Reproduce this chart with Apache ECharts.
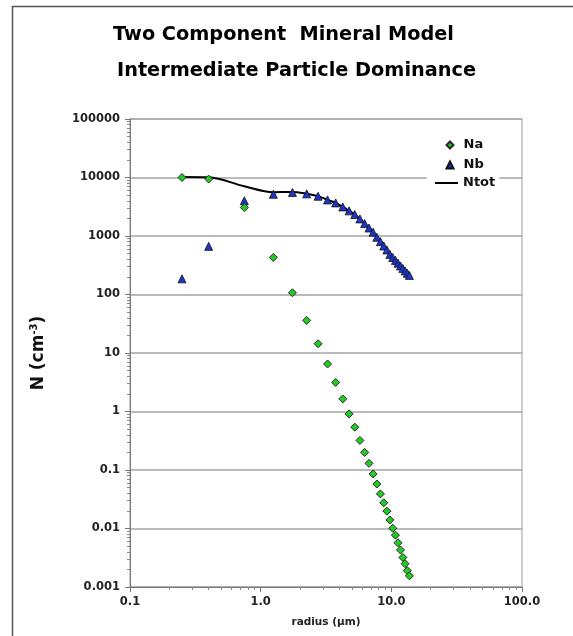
<!DOCTYPE html>
<html>
<head>
<meta charset="utf-8">
<script src="https://cdn.jsdelivr.net/npm/echarts@6/dist/echarts.min.js"></script>
<style>
html,body{margin:0;padding:0;background:#fff;}
#chart{width:573px;height:636px;}
</style>
</head>
<body>
<div id="chart"></div>
<script>
// ---- data ----
const titleLines = ['Two Component  Mineral Model', 'Intermediate Particle Dominance'];
const seriesNames = ['Na', 'Nb', 'Ntot'];
const radius = [0.25, 0.4, 0.75, 1.25, 1.75, 2.25, 2.75, 3.25, 3.75, 4.25, 4.75, 5.25, 5.75, 6.25,
  6.75, 7.25, 7.75, 8.25, 8.75, 9.25, 9.75, 10.25, 10.75, 11.25, 11.75, 12.25, 12.75, 13.25, 13.75];
const naValues = [10000, 9400, 3070, 430, 107, 36, 14.4, 6.5, 3.14, 1.64, 0.91, 0.54, 0.32, 0.2,
  0.13, 0.0855, 0.0575, 0.039, 0.0275, 0.0198, 0.014, 0.0101, 0.0077, 0.0057, 0.0043, 0.0032, 0.0025, 0.0019, 0.00155];
const nbValues = [185, 665, 4000, 5170, 5550, 5250, 4790, 4140, 3680, 3140, 2690, 2330, 1960, 1630,
  1370, 1160, 950, 800, 675, 578, 485, 430, 383, 343, 308, 279, 253, 230, 212];
const ntotValues = [10185, 10065, 7070, 5600, 5657, 5286, 4804, 4147, 3683, 3142, 2691, 2331, 1960, 1630,
  1370, 1160, 950, 800, 675, 578, 485, 430, 383, 343, 308, 279, 253, 230, 212];
const xTickLabels = ['0.1', '1.0', '10.0', '100.0'];        // decades 10^-1 .. 10^2
const yTickLabels = ['0.001', '0.01', '0.1', '1', '10', '100', '1000', '10000', '100000']; // 10^-3 .. 10^5
const xMinorTicks = [0.2,0.3,0.4,0.5,0.6,0.7,0.8,0.9, 2,3,4,5,6,7,8,9, 20,30,40,50,60,70,80,90];
const yMinorTicks = [0.002,0.003,0.004,0.005,0.006,0.007,0.008,0.009,
  0.02,0.03,0.04,0.05,0.06,0.07,0.08,0.09, 0.2,0.3,0.4,0.5,0.6,0.7,0.8,0.9,
  2,3,4,5,6,7,8,9, 20,30,40,50,60,70,80,90, 200,300,400,500,600,700,800,900,
  2000,3000,4000,5000,6000,7000,8000,9000, 20000,30000,40000,50000,60000,70000,80000,90000];
const xAxisName = 'radius (µm)';
const yAxisName = 'N (cm{sup|-3})';

// ---- chart ----
const FONT = 'DejaVu Sans';
const pairs = (vals) => radius.map((r, i) => [r, vals[i]]);
const chart = echarts.init(document.getElementById('chart'), null, {renderer: 'canvas'});
const legendText = {fontFamily: FONT, fontWeight: 'bold', fontSize: 13, color: '#111', lineHeight: 14};

const option = {
  animation: false,
  backgroundColor: '#fff',
  textStyle: {fontFamily: FONT},
  graphic: [
    {type: 'rect', z: -10, shape: {x: 12.5, y: 6.5, width: 700, height: 700},
     style: {fill: 'none', stroke: '#555', lineWidth: 1.5}},
    {type: 'text', x: 283.5, y: 34.5, style: {text: titleLines[0], font: 'bold 19.3px "DejaVu Sans"', fill: '#000', align: 'center', verticalAlign: 'middle'}},
    {type: 'text', x: 296.5, y: 70.5, style: {text: titleLines[1], font: 'bold 19.3px "DejaVu Sans"', fill: '#000', align: 'center', verticalAlign: 'middle'}}
  ],
  grid: {left: 130, right: 51, top: 119, bottom: 49, show: true, borderColor: '#9a9a9a', borderWidth: 1, backgroundColor: 'transparent'},
  legend: [{
    orient: 'vertical', left: 445.5, top: 138,
    data: [seriesNames[0], seriesNames[1]],
    itemWidth: 7, itemHeight: 7, itemGap: 6,
    padding: [0, 0, 0, 0],
    textStyle: Object.assign({padding: [0, 0, 0, 5]}, legendText)
  }, {
    orient: 'vertical', left: 427, top: 173,
    data: [{name: seriesNames[2], icon: 'rect'}],
    itemWidth: 23, itemHeight: 2,
    padding: [3, 4, 3, 8],
    backgroundColor: '#fff',
    textStyle: Object.assign({padding: [0, 0, 0, 0]}, legendText)
  }],
  xAxis: [{
    type: 'log', logBase: 10, min: 0.1, max: 100, splitNumber: 3,
    name: xAxisName, nameLocation: 'middle', nameGap: 30,
    nameTextStyle: {fontFamily: FONT, fontWeight: 'bold', fontSize: 10.5, color: '#222'},
    axisLine: {show: true, lineStyle: {color: '#777', width: 1}},
    axisTick: {show: true, inside: false, length: 5, lineStyle: {color: '#777'}},
    axisLabel: {margin: 9, fontFamily: FONT, fontWeight: 'bold', fontSize: 11.5, color: '#222',
      formatter: (v) => xTickLabels[Math.round(Math.log10(v)) + 1]},
    splitLine: {show: false}
  }, {
    type: 'log', logBase: 10, min: 0.1, max: 100, position: 'bottom', offset: 0,
    axisLine: {show: false},
    axisTick: {show: true, length: 3, customValues: xMinorTicks, lineStyle: {color: '#888'}},
    axisLabel: {show: false},
    splitLine: {show: false}
  }],
  yAxis: [{
    type: 'log', logBase: 10, min: 0.001, max: 100000, splitNumber: 8,
    name: yAxisName, nameLocation: 'middle', nameGap: 82, nameRotate: 90,
    nameTextStyle: {fontFamily: FONT, fontWeight: 'bold', fontSize: 17, color: '#111',
      rich: {sup: {fontFamily: FONT, fontWeight: 'bold', fontSize: 10, color: '#111', padding: [0, 0, 9, 0]}}},
    axisLine: {show: true, lineStyle: {color: '#777', width: 1}},
    axisTick: {show: true, inside: false, length: 5, lineStyle: {color: '#777'}},
    axisLabel: {margin: 10, fontFamily: FONT, fontWeight: 'bold', fontSize: 11.5, color: '#222',
      formatter: (v) => yTickLabels[Math.round(Math.log10(v)) + 3]},
    splitLine: {show: true, lineStyle: {color: '#a4a4a4', width: 1.6}}
  }, {
    type: 'log', logBase: 10, min: 0.001, max: 100000, position: 'left', offset: 0,
    axisLine: {show: false},
    axisTick: {show: true, length: 3, customValues: yMinorTicks, lineStyle: {color: '#888'}},
    axisLabel: {show: false},
    splitLine: {show: false}
  }],
  series: [
    {name: seriesNames[0], type: 'scatter', data: pairs(naValues), symbol: 'diamond', symbolSize: 8, z: 4,
     itemStyle: {color: '#22cc22', borderColor: '#2a2a2a', borderWidth: 1, opacity: 1}},
    {name: seriesNames[1], type: 'scatter', data: pairs(nbValues), symbol: 'triangle', symbolSize: 8, z: 3,
     itemStyle: {color: '#1d36c8', borderColor: '#111', borderWidth: 0.8, opacity: 1}},
    {name: seriesNames[2], type: 'line', data: pairs(ntotValues), symbol: 'none', smooth: 0.35, z: 2,
     lineStyle: {color: '#000', width: 2}, itemStyle: {color: '#000'}}
  ]
};
chart.setOption(option);
</script>
</body>
</html>
